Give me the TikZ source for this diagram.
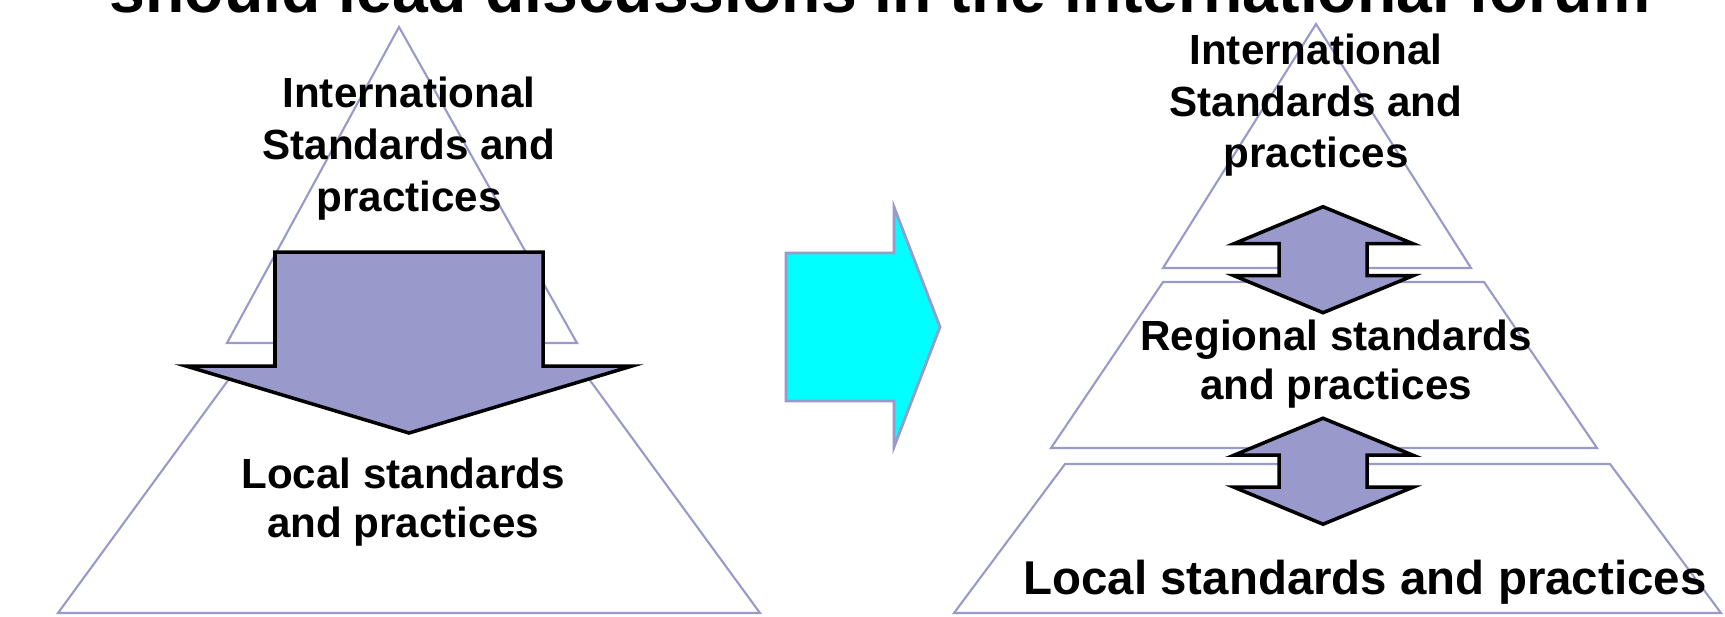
\documentclass[tikz,border=0pt]{standalone}
\usepackage{fontspec}
\setmainfont{Liberation Sans}

\definecolor{lavender}{RGB}{153,153,204}
\definecolor{aqua}{RGB}{0,255,255}

\tikzset{
  tier/.style={draw=lavender, line width=0.6pt},
  bigarrow/.style={draw=black, fill=lavender, line width=1pt},
  tiertext/.style={font=\bfseries\fontsize{12}{13.9}\selectfont, align=center, inner sep=0pt},
  tiertop/.style={tiertext, font=\bfseries\fontsize{12}{14.7}\selectfont},
}

\begin{document}
\begin{tikzpicture}[x=0.1mm, y=-0.1mm]
  \useasboundingbox (0,0) rectangle (1725,616);
  \clip (0,0) rectangle (1725,616);

  % heading, only its lower edge is in view
  \node[font=\bfseries\fontsize{18.3}{20}\selectfont, anchor=base] (heading) at (880,12)
    {should lead discussions in the international forum};

  % left: local tier, international tier on top, one-way arrow
  \draw[tier] (58,613) -- (760,613) -- (581,368) -- (237,368) -- cycle;
  \draw[tier] (227,343) -- (399,27) -- (577,343) -- cycle;
  \draw[bigarrow] (275,252) -- (543,252) -- (543,366) -- (632,366) -- (409,433)
    -- (186,366) -- (275,366) -- cycle;

  % cyan arrow in the middle
  \draw[draw=lavender, fill=aqua, line width=0.8pt] (786,253) -- (894,253) -- (894,207)
    -- (940,327) -- (894,447) -- (894,401) -- (786,401) -- cycle;

  % right: three tiers
  \draw[tier] (1163,268) -- (1316,24) -- (1471,268) -- cycle;
  \draw[tier] (1163,282) -- (1484,282) -- (1597,448) -- (1051,448) -- cycle;
  \draw[tier] (1065,464) -- (1610,464) -- (1721,613) -- (954,613) -- cycle;

  % two-way arrows between the tiers
  \foreach \y in {259.7,471.2}
    \draw[bigarrow] (1323,\y-53) -- (1413,\y-16) -- (1367,\y-16) -- (1367,\y+16)
      -- (1413,\y+16) -- (1323,\y+53) -- (1234,\y+16) -- (1279,\y+16)
      -- (1279,\y-16) -- (1234,\y-16) -- cycle;

  \node[tiertop] (intl) at (409,148.5) {International\\Standards and\\practices};
  \node[tiertext] (local) at (403,501.7) {Local standards\\and practices};
  \node[tiertop] (intlr) at (1316,105.4) {International\\Standards and\\practices};
  \node[tiertext] (regional) at (1336,364) {Regional standards\\and practices};
  \node[tiertext, font=\bfseries\fontsize{13.5}{15}\selectfont] (localr) at (1365,582)
    {Local standards and practices};
\end{tikzpicture}
\end{document}
